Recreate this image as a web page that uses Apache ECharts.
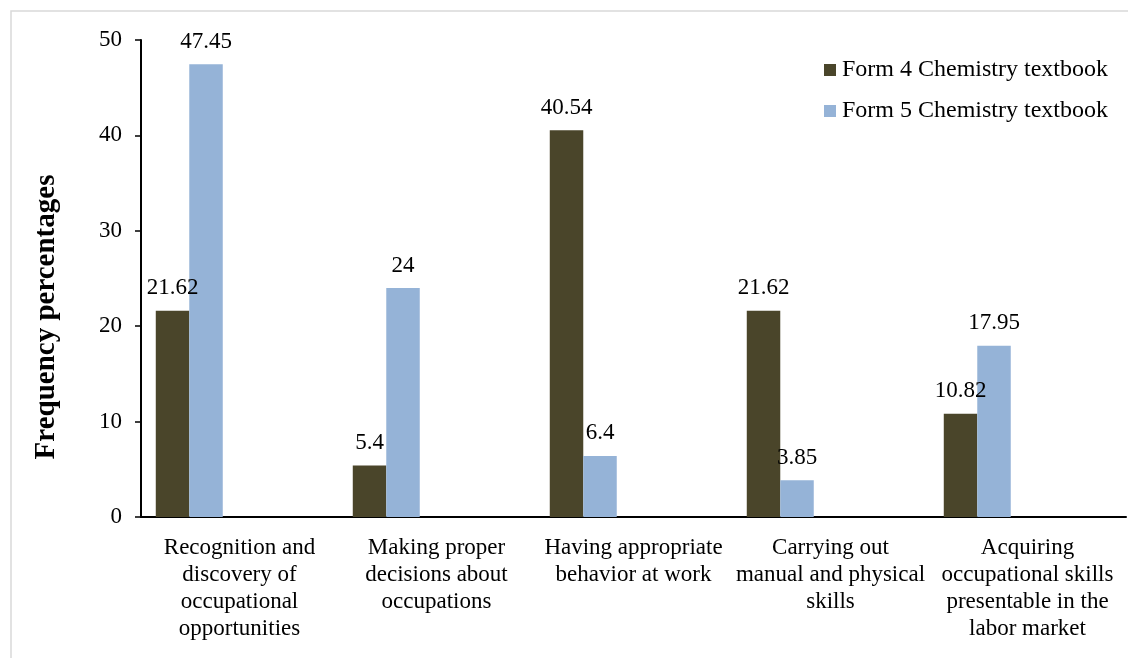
<!DOCTYPE html>
<html>
<head>
<meta charset="utf-8">
<script src="https://cdn.jsdelivr.net/npm/echarts@6/dist/echarts.min.js"></script>
<style>
html,body{margin:0;padding:0;background:#fff;}
#chart{width:1128px;height:658px;}
</style>
</head>
<body>
<div id="chart"></div>
<script>
var categories = [
  "Recognition and\ndiscovery of\noccupational\nopportunities",
  "Making proper\ndecisions about\noccupations",
  "Having appropriate\nbehavior at work",
  "Carrying out\nmanual and physical\nskills",
  "Acquiring\noccupational skills\npresentable in the\nlabor market"
];
var form4Values = [21.62, 5.4, 40.54, 21.62, 10.82];
var form5Values = [47.45, 24, 6.4, 3.85, 17.95];
var seriesNames = ["Form 4 Chemistry textbook", "Form 5 Chemistry textbook"];
var yTicks = [0, 10, 20, 30, 40, 50];

var FONT = "Liberation Serif";
var FS = 23;
var chart = echarts.init(document.getElementById('chart'));

function labelCfg() {
  return {show: true, position: 'top', distance: 11, color: '#000', fontFamily: FONT, fontSize: FS};
}

var option = {
  backgroundColor: '#fff',
  animation: false,
  graphic: [
    {type: 'rect', shape: {x: 11, y: 11, width: 1130, height: 660}, style: {fill: 'none', stroke: '#d9d9d9', lineWidth: 1.5}, silent: true},
    {type: 'text', x: 47, y: 317, rotation: Math.PI / 2,
     style: {text: 'Frequency percentages', fontFamily: FONT, fontSize: 29, fontWeight: 'bold', fill: '#000', align: 'center', verticalAlign: 'middle'}}
  ],
  legend: {
    orient: 'vertical', left: 819, top: 53, itemWidth: 12, itemHeight: 12, itemGap: 17,
    icon: 'rect', data: seriesNames,
    textStyle: {fontFamily: FONT, fontSize: 24, color: '#000', padding: [0, 0, 0, 1]}
  },
  grid: {left: 141, right: 2, top: 40, bottom: 141},
  xAxis: {
    type: 'category', data: categories,
    axisLine: {lineStyle: {color: '#000', width: 2}},
    axisTick: {show: false},
    axisLabel: {interval: 0, margin: 17, color: '#000', fontFamily: FONT, fontSize: FS, lineHeight: 27}
  },
  yAxis: {
    type: 'value', min: 0, max: 50, interval: 10,
    axisLine: {show: true, lineStyle: {color: '#000', width: 2}},
    axisTick: {show: true, length: 6, lineStyle: {color: '#000', width: 1.5}},
    splitLine: {show: false},
    axisLabel: {margin: 19, color: '#000', fontFamily: FONT, fontSize: FS,
      formatter: function (v) { return yTicks.indexOf(v) >= 0 ? String(v) : ''; }}
  },
  series: [
    {name: seriesNames[0], type: 'bar', data: form4Values, barGap: '0%', barCategoryGap: '15%',
     itemStyle: {color: '#4a452a'}, label: labelCfg()},
    {name: seriesNames[1], type: 'bar', data: form5Values,
     itemStyle: {color: '#95b3d7'}, label: labelCfg()},
    {name: 'e1', type: 'bar', data: []},
    {name: 'e2', type: 'bar', data: []},
    {name: 'e3', type: 'bar', data: []}
  ]
};
chart.setOption(option);
</script>
</body>
</html>
